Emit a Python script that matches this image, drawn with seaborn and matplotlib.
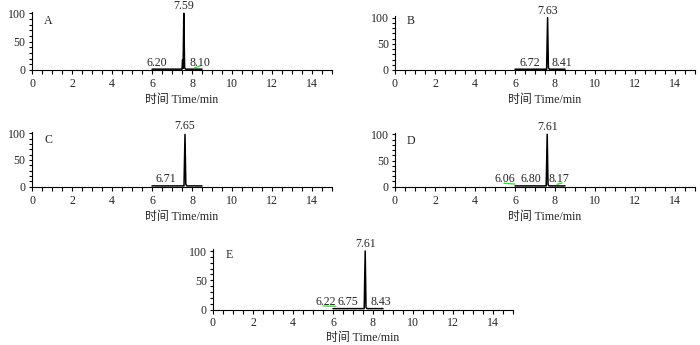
import matplotlib
matplotlib.use("Agg")
import matplotlib.pyplot as plt
import numpy as np
import pandas as pd
import seaborn as sns
from matplotlib.ticker import MultipleLocator

# ---------------- data ----------------
panel_names = ["A", "B", "C", "D", "E"]

# chromatogram traces: time (min) and relative intensity (%)
time_A = [6.00, 7.50, 7.53, 7.555, 7.59, 7.63, 7.68, 8.50]
int_A = [1.5, 1.5, 18.0, 3.0, 100.0, 4.0, 1.5, 1.5]
time_B = [6.00, 7.58, 7.63, 7.67, 7.72, 8.50]
int_B = [1.5, 1.5, 100.0, 4.0, 1.5, 1.5]
time_C = [6.00, 7.60, 7.65, 7.69, 7.74, 8.50]
int_C = [1.5, 1.5, 98.0, 5.0, 1.5, 1.5]
time_D = [6.00, 7.56, 7.61, 7.65, 7.70, 8.50]
int_D = [1.5, 1.5, 100.0, 4.0, 1.5, 1.5]
time_E = [6.00, 7.56, 7.61, 7.65, 7.70, 8.50]
int_E = [1.5, 1.5, 100.0, 4.0, 1.5, 1.5]

# retention time labels
main_rt = [7.59, 7.63, 7.65, 7.61, 7.61]
minor_rt_A = [6.20, 8.10]
minor_rt_B = [6.72, 8.41]
minor_rt_C = [6.71]
minor_rt_D = [6.06, 6.80, 8.17]
minor_rt_E = [6.22, 6.75, 8.43]

# small green minor-peak traces
green_t_A = [[8.12, 8.40]]
green_y_A = [[4.0, 6.5]]
green_t_D = [[5.45, 6.00], [8.10, 8.35]]
green_y_D = [[6.5, 5.0], [4.5, 7.0]]
green_t_E = [[5.50, 6.15]]
green_y_E = [[6.0, 5.5]]
green_t_B, green_y_B, green_t_C, green_y_C = [], [], [], []

x_ticks = [0, 2, 4, 6, 8, 10, 12, 14]
y_ticks = [0, 50, 100]
x_label = "时间 Time/min"

# ---------------- layout ----------------
sns.set_theme(style="ticks")
plt.rcParams["font.family"] = ["Liberation Serif", "Noto Sans CJK SC"]
plt.rcParams["axes.unicode_minus"] = False
FS = 8.6

W, H = 700, 345
fig = plt.figure(figsize=(W / 100, H / 100), dpi=100)

# (left px, zero-line px, 100-line px)
rects = [(32, 70.0, 13.3), (395, 70.0, 17.7), (32, 186.7, 133.3),
         (395, 186.7, 134.3), (213, 309.5, 251.0)]
YTOP = 103.0
WPX = 300
label_pads = [3.0, 3.0, 3.0, 3.0, 1.5]

traces = [(time_A, int_A), (time_B, int_B), (time_C, int_C),
          (time_D, int_D), (time_E, int_E)]
minors = [minor_rt_A, minor_rt_B, minor_rt_C, minor_rt_D, minor_rt_E]
greens = [(green_t_A, green_y_A), (green_t_B, green_y_B), (green_t_C, green_y_C),
          (green_t_D, green_y_D), (green_t_E, green_y_E)]
# horizontal placement of minor labels (layout offsets from the retention time)
minor_label_shift = [[0.05, 0.30], [0.0, -0.08], [0.0], [-0.56, 0.0, 0.03],
                     [-0.57, 0.0, -0.03]]
letter_y = [86, 94, 87, 88, 94]

for i, name in enumerate(panel_names):
    left, y0, y100 = rects[i]
    hpx = (y0 - y100) * YTOP / 100.0
    ax = fig.add_axes([left / W, (H - y0) / H, WPX / W, hpx / H])
    t, v = traces[i]
    df = pd.DataFrame({"t": t, "v": v})
    sns.lineplot(data=df, x="t", y="v", ax=ax, color="black", lw=1.1,
                 sort=False, estimator=None)
    for gt, gy in zip(*greens[i]):
        ax.plot(gt, gy, color="#3fd13f", lw=0.9)
    ax.set_xlim(0, 15)
    ax.set_ylim(0, YTOP)
    ax.set_xticks(x_ticks)
    ax.set_yticks(y_ticks)
    ax.xaxis.set_minor_locator(MultipleLocator(0.5))
    ax.yaxis.set_minor_locator(MultipleLocator(10))
    ax.tick_params(axis="x", which="both", direction="out", length=2.7,
                   width=0.8, labelsize=FS, pad=3.0, color="black")
    ax.tick_params(axis="y", which="both", direction="out", length=2.5,
                   width=0.8, labelsize=FS, pad=2.0, color="black")
    for s in ["top", "right"]:
        ax.spines[s].set_visible(False)
    for s in ["left", "bottom"]:
        ax.spines[s].set_linewidth(0.8)
        ax.spines[s].set_color("black")
    ax.set_xlabel(x_label, fontsize=FS, labelpad=label_pads[i])
    ax.set_ylabel("")
    ax.text(0.8, letter_y[i], name, fontsize=FS, ha="center", va="center")
    ax.annotate(f"{main_rt[i]:.2f}", (main_rt[i], 100), xytext=(0, 0.8),
                textcoords="offset points", ha="center", va="bottom", fontsize=FS)
    for rt, sh in zip(minors[i], minor_label_shift[i]):
        ax.text(rt + sh, 2.5, f"{rt:.2f}", ha="center", va="bottom", fontsize=FS)

fig.savefig("out.png", dpi=100)
